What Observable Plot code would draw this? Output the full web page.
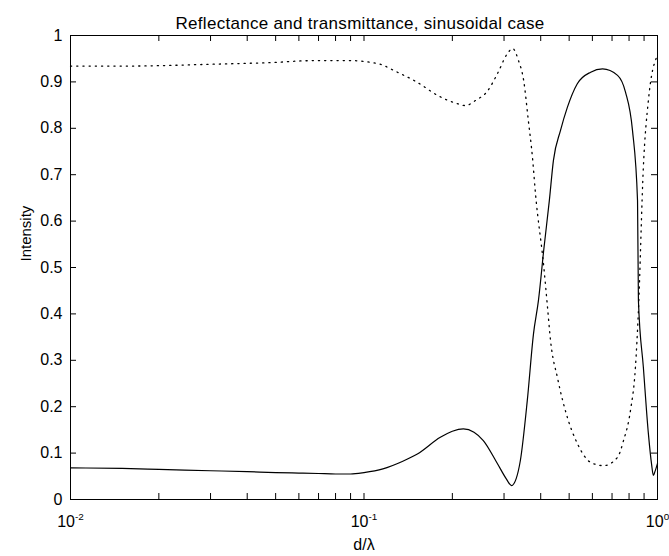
<!DOCTYPE html>
<html><head><meta charset="utf-8">
<script src="https://cdn.jsdelivr.net/npm/d3@7"></script>
<script src="https://cdn.jsdelivr.net/npm/@observablehq/plot@0.6"></script>
<style>body{margin:0;background:#fff}</style>
</head><body><div id="chart"></div>
<script>
const title = "Reflectance and transmittance, sinusoidal case";
const xLabel = "d/λ";
const yLabel = "Intensity";

// Reflectance (solid line)
const reflX = [0.01,0.015,0.02,0.03,0.04,0.05,0.06,0.07,0.08,0.09,0.1,0.116,0.135,0.152,0.182,0.2,0.218,0.237,0.255,0.285,0.305,0.318,0.33,0.341,0.36,0.378,0.393,0.41,0.428,0.442,0.467,0.493,0.533,0.592,0.65,0.731,0.778,0.822,0.855,0.861,0.895,0.931,0.955,0.968,0.98,1.0];
const reflY = [0.068,0.067,0.065,0.062,0.060,0.058,0.057,0.056,0.055,0.055,0.058,0.066,0.082,0.098,0.134,0.147,0.152,0.145,0.127,0.077,0.045,0.030,0.045,0.084,0.213,0.357,0.429,0.54,0.644,0.731,0.795,0.845,0.896,0.921,0.928,0.914,0.878,0.795,0.644,0.429,0.285,0.142,0.075,0.052,0.060,0.078];

// Transmittance (dotted line)
const transX = [0.01,0.015,0.02,0.03,0.04,0.05,0.06,0.07,0.08,0.09,0.1,0.116,0.126,0.152,0.178,0.208,0.222,0.24,0.264,0.285,0.308,0.321,0.336,0.35,0.363,0.375,0.384,0.41,0.422,0.432,0.456,0.493,0.533,0.592,0.655,0.731,0.766,0.809,0.841,0.861,0.895,0.931,0.962,0.984,1.0];
const transY = [0.934,0.934,0.935,0.938,0.940,0.942,0.945,0.946,0.946,0.946,0.944,0.936,0.925,0.899,0.871,0.853,0.849,0.860,0.881,0.918,0.961,0.972,0.946,0.903,0.817,0.737,0.659,0.50,0.414,0.343,0.263,0.177,0.121,0.080,0.073,0.091,0.127,0.192,0.285,0.407,0.716,0.860,0.925,0.946,0.960];

const xMajorTicks = [0.01, 0.1, 1];
const xMajorLabels = ["10^-2", "10^-1", "10^0"];
const xMinorTicks = [0.02,0.03,0.04,0.05,0.06,0.07,0.08,0.09,0.2,0.3,0.4,0.5,0.6,0.7,0.8,0.9];
const yTicks = [0,0.1,0.2,0.3,0.4,0.5,0.6,0.7,0.8,0.9,1];
const yTickLabels = ["0","0.1","0.2","0.3","0.4","0.5","0.6","0.7","0.8","0.9","1"];

const W = 669, H = 556, mt = 35, mb = 57, ml = 70, mr = 12;
const ph = H - mt - mb, pw = W - ml - mr, tk = 6;
const font = "'Liberation Sans', Arial, sans-serif";

const refl = reflX.map((x, i) => ({x, y: reflY[i]}));
const trans = transX.map((x, i) => ({x, y: transY[i]}));
const allXTicks = xMajorTicks.concat(xMinorTicks);

const chart = Plot.plot({
  width: W, height: H,
  marginTop: mt, marginBottom: mb, marginLeft: ml, marginRight: mr,
  style: {fontFamily: font, fontSize: "16px", background: "#fff", color: "#000", overflow: "visible"},
  x: {type: "log", domain: [0.01, 1]},
  y: {domain: [0, 1]},
  marks: [
    Plot.line(trans, {x: "x", y: "y", stroke: "#000", strokeWidth: 1.3, strokeDasharray: "1.2,5", strokeLinecap: "round", curve: "monotone-x"}),
    Plot.line(refl, {x: "x", y: "y", stroke: "#000", strokeWidth: 1.2, curve: "monotone-x"}),
    Plot.tickX(allXTicks, {x: d => d, insetTop: ph - tk, stroke: "#000"}),
    Plot.tickX(allXTicks, {x: d => d, insetBottom: ph - tk, stroke: "#000"}),
    Plot.tickY(yTicks, {y: d => d, insetRight: pw - tk, stroke: "#000"}),
    Plot.tickY(yTicks, {y: d => d, insetLeft: pw - tk, stroke: "#000"}),
    Plot.frame({stroke: "#000"}),
    Plot.axisX(xMajorTicks, {tickSize: 0, tickPadding: 16, fontSize: 16,
      tickFormat: d => xMajorLabels[xMajorTicks.indexOf(d)],
      label: xLabel, labelAnchor: "center", labelOffset: 50, labelArrow: "none"}),
    Plot.axisY(yTicks, {tickSize: 0, tickPadding: 8, fontSize: 16,
      tickFormat: d => yTickLabels[yTicks.indexOf(d)], label: null}),
    Plot.text([yLabel], {frameAnchor: "left", rotate: -90, dx: -44, dy: -6, fontSize: 15, fill: "#000"}),
    Plot.text([title], {frameAnchor: "top", dx: -4, dy: -19, fontSize: 17, fill: "#000"})
  ]
});

// superscript exponents on the log-axis tick labels
d3.select(chart).selectAll('g[aria-label="x-axis tick label"] text').each(function() {
  const t = d3.select(this);
  const s = t.text();
  if (s.includes("^")) {
    const [base, exp] = s.split("^");
    t.text(null);
    t.append("tspan").text(base);
    t.append("tspan").attr("dy", "-0.68em").attr("font-size", "0.62em").text(exp);
  }
});
d3.select(chart).selectAll('g[aria-label="text"] text').filter(function() { return d3.select(this).text() === title; }).style("letter-spacing", "0.3px");

document.getElementById("chart").appendChild(chart);
</script>
</body></html>
